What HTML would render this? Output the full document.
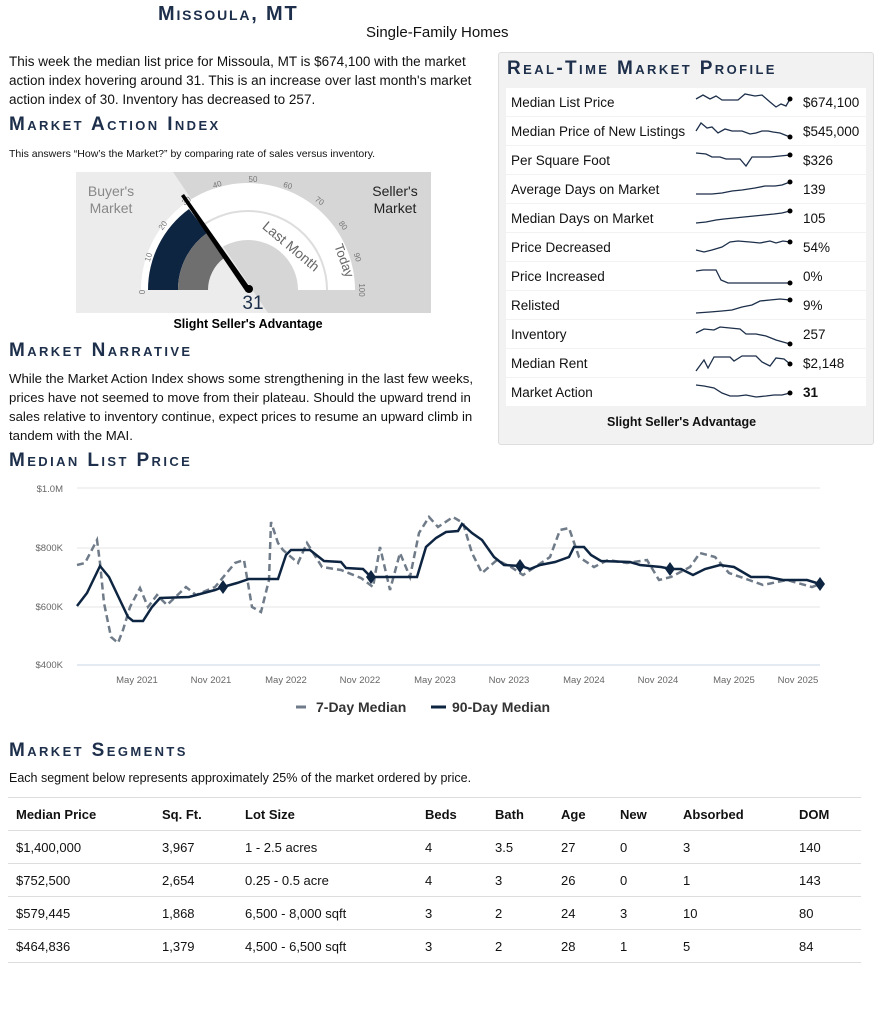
<!DOCTYPE html>
<html><head><meta charset="utf-8"><style>
*{margin:0;padding:0;box-sizing:border-box}
body{width:882px;height:1024px;background:#fff;font-family:"Liberation Sans",sans-serif;color:#111;position:relative;overflow:hidden}
.a{position:absolute;white-space:nowrap}
.h{font-variant:small-caps;font-weight:bold;color:#1d2f4a;letter-spacing:2.4px;font-size:19px}
.t{font-size:13.5px;line-height:19px}
.row{position:absolute;left:506px;width:360px;height:28px;background:#fff;font-size:13.5px}
.row span{position:absolute;top:7px}
table{position:absolute;left:8px;top:797px;width:853px;border-collapse:collapse;font-size:13px}
td{height:33px;border-top:1px solid #ddd;padding-left:8px}
</style></head><body>
<div class="a h" style="left:158px;top:3px;font-size:20px;letter-spacing:1.8px">Missoula, MT</div>
<div class="a" style="left:366px;top:24px;font-size:15px">Single-Family Homes</div>
<div class="a t" style="left:9px;top:52px">This week the median list price for Missoula, MT is $674,100 with the market<br>action index hovering around 31. This is an increase over last month's market<br>action index of 30. Inventory has decreased to 257.</div>
<div class="a h" style="left:9px;top:114px">Market Action Index</div>
<div class="a" style="left:9px;top:148px;font-size:10.5px">This answers “How’s the Market?” by comparing rate of sales versus inventory.</div>
<svg class="a" style="left:0;top:0" width="440" height="340">
<rect x="76" y="172" width="355" height="141" fill="#ececec"/>
<polygon points="173,172 431,172 431,313 268,313" fill="#d6d6d6"/>
<path d="M141,290 A107,107 0 0 1 355,290 L298,290 A50,50 0 0 0 198,290Z" fill="#fff"/>
<path d="M169,290 A79,79 0 0 1 327,290" fill="none" stroke="#ddd" stroke-width="2"/>
<path d="M148,290 A100,100 0 0 1 189,209 L207,233 A70,70 0 0 0 178,290Z" fill="#0e2542"/>
<path d="M178,290 A70,70 0 0 1 207,233 L224,258 A40,40 0 0 0 208,290Z" fill="#6f6f6f"/>
<g font-size="8" fill="#777" text-anchor="middle">
<text x="145" y="292" transform="rotate(-90 145 292)">0</text>
<text x="151" y="258" transform="rotate(-72 151 258)">10</text>
<text x="165" y="227" transform="rotate(-54 165 227)">20</text>
<text x="188" y="203" transform="rotate(-36 188 203)">30</text>
<text x="218" y="187" transform="rotate(-18 218 187)">40</text>
<text x="253" y="182">50</text>
<text x="287" y="188" transform="rotate(18 287 188)">60</text>
<text x="318" y="203" transform="rotate(36 318 203)">70</text>
<text x="341" y="227" transform="rotate(54 341 227)">80</text>
<text x="355" y="258" transform="rotate(72 355 258)">90</text>
<text x="359" y="290" transform="rotate(90 359 290)">100</text>
</g>
<text x="288" y="250" font-size="14" fill="#666" transform="rotate(40 288 250)" text-anchor="middle">Last Month</text>
<text x="340" y="262" font-size="13" fill="#666" transform="rotate(70 340 262)" text-anchor="middle">Today</text>
<text x="111" y="196" font-size="14" fill="#888" text-anchor="middle">Buyer's</text>
<text x="111" y="213" font-size="14" fill="#888" text-anchor="middle">Market</text>
<text x="395" y="196" font-size="14" fill="#222" text-anchor="middle">Seller's</text>
<text x="395" y="213" font-size="14" fill="#222" text-anchor="middle">Market</text>
<polygon points="184,194 181,196 246,292 251,289" fill="#000"/>
<circle cx="249" cy="289" r="4" fill="#000"/>
<text x="253" y="309" font-size="19" fill="#1d2f4a" text-anchor="middle">31</text>
<text x="248" y="328" font-size="12.5" font-weight="bold" text-anchor="middle">Slight Seller's Advantage</text>
</svg>
<div class="a h" style="left:9px;top:340px">Market Narrative</div>
<div class="a t" style="left:9px;top:369px;font-size:13.2px">While the Market Action Index shows some strengthening in the last few weeks,<br>prices have not seemed to move from their plateau. Should the upward trend in<br>sales relative to inventory continue, expect prices to resume an upward climb in<br>tandem with the MAI.</div>

<div class="a" style="left:498px;top:52px;width:376px;height:393px;background:#f2f2f2;border:1px solid #ddd;border-radius:3px"></div>
<div class="a h" style="left:507px;top:58px">Real-Time Market Profile</div>
<div class="row" style="top:88px"><span style="left:5px">Median List Price</span><span style="left:297px">$674,100</span></div>
<div class="row" style="top:117px"><span style="left:5px">Median Price of New Listings</span><span style="left:297px">$545,000</span></div>
<div class="row" style="top:146px"><span style="left:5px">Per Square Foot</span><span style="left:297px">$326</span></div>
<div class="row" style="top:175px"><span style="left:5px">Average Days on Market</span><span style="left:297px">139</span></div>
<div class="row" style="top:204px"><span style="left:5px">Median Days on Market</span><span style="left:297px">105</span></div>
<div class="row" style="top:233px"><span style="left:5px">Price Decreased</span><span style="left:297px">54%</span></div>
<div class="row" style="top:262px"><span style="left:5px">Price Increased</span><span style="left:297px">0%</span></div>
<div class="row" style="top:291px"><span style="left:5px">Relisted</span><span style="left:297px">9%</span></div>
<div class="row" style="top:320px"><span style="left:5px">Inventory</span><span style="left:297px">257</span></div>
<div class="row" style="top:349px"><span style="left:5px">Median Rent</span><span style="left:297px">$2,148</span></div>
<div class="row" style="top:378px"><span style="left:5px">Market Action</span><span style="left:297px;font-weight:bold">31</span></div>
<div class="a" style="left:607px;top:415px;font-size:12.5px;font-weight:bold">Slight Seller's Advantage</div>
<svg class="a" style="left:0;top:0" width="882" height="450" fill="none" stroke="#1d2f4a" stroke-width="1.3">
<polyline points="696,99 703,95 710,99 716,96 722,100 738,100 745,94 755,96 762,95 770,102 776,107 781,104 786,106 790,99"/>
<polyline points="696,131 701,123 707,128 712,127 718,133 725,129 732,131 742,131 750,134 756,133 762,131 768,131 773,132 780,133 790,137"/>
<polyline points="696,153 706,154 712,157 720,157 726,159 740,159 746,166 752,157 770,157 790,155"/>
<polyline points="696,194 712,194 722,193 732,191 742,190 755,188 765,186 775,186 782,185 790,182"/>
<polyline points="696,223 706,222 716,220 724,219 734,218 744,217 754,216 764,215 774,214 782,213 790,211"/>
<polyline points="696,250 704,252 712,250 722,247 730,242 738,241 750,242 760,243 770,241 776,243 783,241 790,242"/>
<polyline points="696,271 703,270 716,270 721,280 728,283 790,283" />
<polyline points="696,313 710,312 722,311 732,310 742,307 752,305 760,301 770,300 780,299 790,300"/>
<polyline points="696,333 704,329 714,330 720,327 730,328 740,329 746,334 756,334 766,336 776,340 790,344"/>
<polyline points="696,371 704,360 708,368 714,357 730,357 734,361 742,356 756,356 762,362 770,366 776,358 784,359 790,364"/>
<polyline points="696,385 704,386 714,388 722,393 730,396 738,396 746,395 756,397 766,396 774,395 782,395 790,393"/>
<g fill="#000" stroke="none"><circle cx="790" cy="99" r="2.5"/><circle cx="790" cy="137" r="2.5"/><circle cx="790" cy="155" r="2.5"/><circle cx="790" cy="182" r="2.5"/><circle cx="790" cy="211" r="2.5"/><circle cx="790" cy="242" r="2.5"/><circle cx="790" cy="283" r="2.5"/><circle cx="790" cy="300" r="2.5"/><circle cx="790" cy="344" r="2.5"/><circle cx="790" cy="364" r="2.5"/><circle cx="790" cy="393" r="2.5"/></g>
</svg>

<div class="a h" style="left:9px;top:450px">Median List Price</div>
<svg class="a" style="left:0;top:470px" width="882" height="250">
<g stroke="#e6e6e6"><line x1="77" y1="18" x2="820" y2="18"/><line x1="77" y1="78" x2="820" y2="78"/><line x1="77" y1="137" x2="820" y2="137"/></g>
<line x1="77" y1="195" x2="820" y2="195" stroke="#c8d6e5"/>
<g font-size="9.5" fill="#666" text-anchor="end"><text x="63" y="22">$1.0M</text><text x="63" y="81">$800K</text><text x="63" y="140">$600K</text><text x="63" y="198">$400K</text></g>
<g font-size="9.5" fill="#666" text-anchor="middle"><text x="137" y="213">May 2021</text><text x="211" y="213">Nov 2021</text><text x="286" y="213">May 2022</text><text x="360" y="213">Nov 2022</text><text x="435" y="213">May 2023</text><text x="509" y="213">Nov 2023</text><text x="584" y="213">May 2024</text><text x="658" y="213">Nov 2024</text><text x="734" y="213">May 2025</text><text x="798" y="213">Nov 2025</text></g>
<g transform="translate(0,-470)">
<polyline fill="none" stroke="#6f7b88" stroke-width="2.5" stroke-dasharray="7,4" points="77,565 85,563 97,540 100,563 104,603 111,637 118,643 123,630 130,607 140,588 148,607 157,595 167,605 186,587 196,595 215,587 235,563 244,560 252,607 261,612 269,580 271,522 278,543 283,550 298,563 307,543 322,567 341,570 361,578 373,587 380,547 390,590 400,553 410,577 419,533 429,517 438,527 453,517 463,523 472,553 482,573 497,560 511,567 523,575 535,567 550,557 560,530 569,528 579,557 594,567 608,560 627,563 647,560 659,580 671,577 690,567 700,553 715,557 729,573 749,580 763,585 787,580 812,587 820,584"/>
<polyline fill="none" stroke="#0e2542" stroke-width="2.5" points="77,606 87,593 100,566 109,577 128,617 133,621 143,621 152,607 160,598 189,597 215,590 223,587 237,583 249,579 278,579 286,555 291,550 310,550 324,561 341,562 346,568 363,569 371,577 417,577 426,547 436,538 446,532 458,531 462,524 472,533 482,540 494,557 504,565 521,566 530,569 540,565 555,562 569,557 574,547 584,547 591,555 601,561 630,562 640,565 661,567 671,569 681,569 693,575 705,569 720,565 734,567 751,577 768,577 783,580 807,580 820,584"/>
<g fill="#0e2542"><path d="M223,580 l5,7 -5,7 -5,-7z"/><path d="M371,570 l5,7 -5,7 -5,-7z"/><path d="M520,559 l5,7 -5,7 -5,-7z"/><path d="M670,562 l5,7 -5,7 -5,-7z"/><path d="M820,577 l5,7 -5,7 -5,-7z"/></g>
</g>
<line x1="296" y1="237" x2="306" y2="237" stroke="#6f7b88" stroke-width="3"/>
<text x="316" y="242" font-size="14" font-weight="bold" fill="#333">7-Day Median</text>
<line x1="431" y1="237" x2="446" y2="237" stroke="#0e2542" stroke-width="3"/>
<text x="452" y="242" font-size="14" font-weight="bold" fill="#333">90-Day Median</text>
</svg>

<div class="a h" style="left:9px;top:740px">Market Segments</div>
<div class="a" style="left:9px;top:771px;font-size:12.5px">Each segment below represents approximately 25% of the market ordered by price.</div>
<table>
<tr style="font-weight:bold"><td style="width:146px">Median Price</td><td style="width:83px">Sq. Ft.</td><td style="width:180px">Lot Size</td><td style="width:70px">Beds</td><td style="width:66px">Bath</td><td style="width:59px">Age</td><td style="width:63px">New</td><td style="width:116px">Absorbed</td><td>DOM</td></tr>
<tr><td>$1,400,000</td><td>3,967</td><td>1 - 2.5 acres</td><td>4</td><td>3.5</td><td>27</td><td>0</td><td>3</td><td>140</td></tr>
<tr><td>$752,500</td><td>2,654</td><td>0.25 - 0.5 acre</td><td>4</td><td>3</td><td>26</td><td>0</td><td>1</td><td>143</td></tr>
<tr><td>$579,445</td><td>1,868</td><td>6,500 - 8,000 sqft</td><td>3</td><td>2</td><td>24</td><td>3</td><td>10</td><td>80</td></tr>
<tr style="border-bottom:1px solid #ddd"><td>$464,836</td><td>1,379</td><td>4,500 - 6,500 sqft</td><td>3</td><td>2</td><td>28</td><td>1</td><td>5</td><td>84</td></tr>
</table>
</body></html>
